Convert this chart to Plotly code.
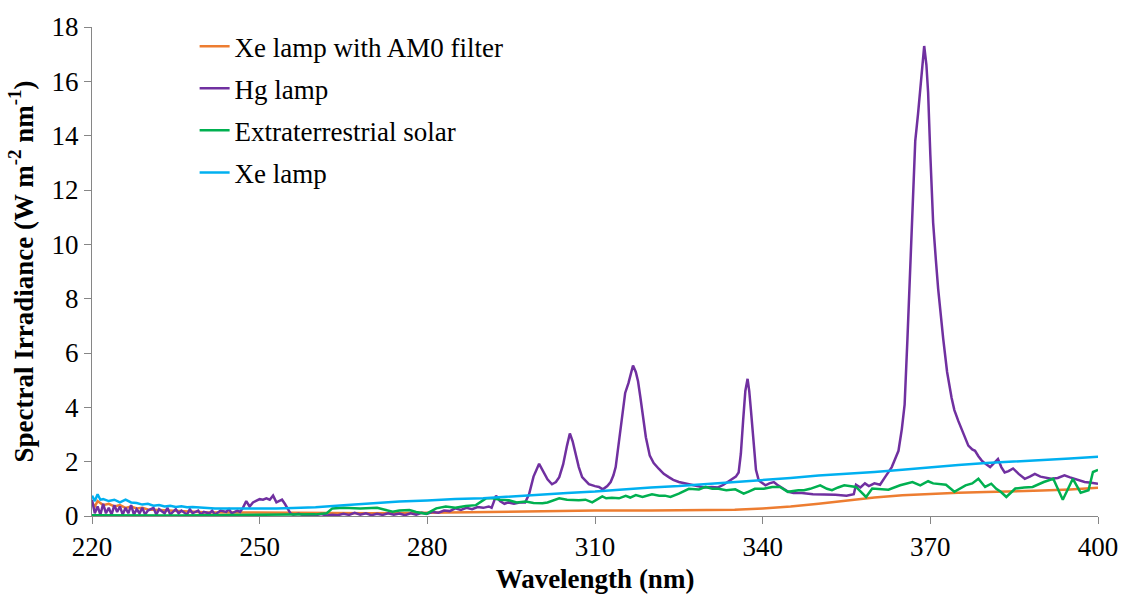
import plotly.graph_objects as go

# ---- Data ----
hg_wl = [220,220.5,221,221.5,222,222.5,223,223.5,224,224.5,225,225.5,226,226.5,227,227.5,228,228.5,229,229.5,
         230,231,231.5,232,233,233.5,234,235,235.5,236,237,237.5,238,239,239.5,240,241,241.5,242,243,244,244.5,
         245,246,246.5,247,247.6,248.2,248.8,249.4,250,250.6,251.2,251.8,252.4,253,253.5,254,254.5,255,255.5,
         256,257,258,259,260,261,262,263,264,265,266,267,268,269,270,271,272,273,274,275,276,277,278,279,280,
         281,282,283,284,285,286,287,288,289,290,291,291.5,292.3,293,293.8,294.5,295.5,296.5,297.5,298.2,299,
         300,300.7,301.5,302.3,303,303.6,304.3,305,305.5,306,306.5,307.1,307.7,308.9,310,310.7,311.4,312.2,312.8,
         313.3,313.7,314.3,314.9,315.4,316,316.8,317.3,317.7,318.1,318.5,319.1,319.8,320.5,321.4,322.3,323.2,324,
         325,326.5,328,329.5,330.9,332,333,334.5,335.2,335.7,336.1,336.5,336.9,337.3,337.6,337.9,338.4,338.8,
         339.3,340,340.5,341.2,342,342.6,343.2,344.6,345.5,347,349,351,353,355,356.3,356.7,357.5,358.3,359,360,
         361,361.9,362.5,363.1,363.7,364.3,364.9,365.4,365.9,366.3,366.7,367.3,367.8,368.3,368.9,369.3,369.6,
         370,370.5,371,371.4,372.3,373,373.8,374.3,375,375.8,376.8,377.5,378,378.6,379.2,380,380.7,381.4,382.1,
         382.7,383.3,384,384.8,385.8,386.9,387.8,388.7,389.7,390.6,391.6,392.8,394,395,396,397.6,398.8,400]
hg_val = [0.6,0.1,0.35,0.05,0.45,0.1,0.3,0.05,0.4,0.15,0.35,0.05,0.3,0.1,0.4,0.05,0.25,0.1,0.3,0.05,
          0.2,0.3,0.05,0.25,0.1,0.3,0.05,0.25,0.1,0.2,0.05,0.25,0.1,0.2,0.05,0.15,0.1,0.2,0.05,0.2,0.15,0.25,
          0.1,0.2,0.15,0.3,0.55,0.35,0.5,0.55,0.62,0.6,0.65,0.6,0.75,0.5,0.55,0.6,0.45,0.25,0.1,
          0.05,0.08,0.02,0.05,0.03,0.07,0.02,0.05,0.03,0.08,0.04,0.12,0.05,0.1,0.03,0.08,0.04,0.1,0.05,0.09,0.03,0.1,0.05,0.12,0.08,
          0.15,0.12,0.2,0.18,0.28,0.22,0.3,0.25,0.33,0.3,0.35,0.3,0.75,0.55,0.45,0.5,0.45,0.5,0.5,0.8,1.45,
          1.92,1.65,1.35,1.17,1.25,1.43,1.9,2.6,3.04,2.75,2.28,1.8,1.43,1.17,1.1,1.07,0.98,1.1,1.25,
          1.5,1.8,2.77,3.8,4.53,4.9,5.54,5.3,4.96,4.4,3.74,2.9,2.22,1.95,1.74,1.55,1.43,1.33,
          1.25,1.18,1.13,1.05,1.07,1.05,1.15,1.37,1.45,1.6,2.3,3.5,4.6,5.05,4.6,3.9,2.53,1.7,
          1.31,1.2,1.13,1.2,1.25,1.15,1.07,0.89,0.85,0.85,0.8,0.8,0.78,0.75,0.8,1.15,1.05,1.2,1.1,1.2,
          1.15,1.43,1.6,1.8,2.1,2.4,3.2,4.1,6.5,8.6,10.8,13.8,14.8,16.0,17.3,16.6,15.6,
          13.3,10.8,9.4,8.36,6.53,5.3,4.35,3.9,3.5,3.1,2.59,2.45,2.4,2.2,2.04,1.9,1.8,1.95,2.1,
          1.8,1.6,1.65,1.75,1.55,1.37,1.45,1.55,1.45,1.4,1.37,1.4,1.5,1.42,1.35,1.25,1.22,1.19]

sol_wl = [220,225,230,235,240,245,250,255,258,260,262,263,265,268,271,273.8,275,276.8,278,279.8,281.6,283.3,
          285,286.9,288.7,289.5,290.5,291.7,293,294.6,296,297.6,299,300.6,301.5,303.6,305,307.1,308.3,309.5,
          311.3,312,313,314.3,315.5,316.3,317.3,318.5,320.2,321.5,322.5,323.5,325,326.8,328.6,329.8,331,332.1,
          333.5,335.1,336.6,337.5,338.6,340.2,341.7,343.1,344.5,346.4,347.4,348.5,350.3,351.5,352.4,353.5,354.6,
          356.7,358.5,359.6,361,362.5,364.6,366.8,368.2,369.6,370.5,371.2,372.8,374.3,375.3,376.3,377.5,378.6,
          379.8,380.9,381.8,382.6,383.6,385.2,386.8,388.3,390.3,392,393.7,395.5,396.9,398.3,399.1,400]
sol_val = [0.03,0.02,0.03,0.02,0.03,0.04,0.05,0.05,0.08,0.06,0.1,0.28,0.3,0.28,0.3,0.16,0.2,0.22,0.15,0.08,0.28,0.35,
           0.3,0.37,0.4,0.5,0.65,0.65,0.6,0.58,0.5,0.53,0.48,0.47,0.5,0.65,0.6,0.58,0.6,0.5,
           0.72,0.65,0.67,0.65,0.74,0.68,0.77,0.7,0.8,0.75,0.75,0.7,0.82,1.0,0.98,1.07,1.0,1.0,
           0.95,0.98,0.82,0.9,1.0,1.0,1.07,1.07,0.89,0.95,0.95,1.0,1.13,1.0,0.95,1.05,1.13,
           1.07,0.7,1.01,0.98,0.97,1.13,1.25,1.13,1.28,1.2,1.19,1.15,0.89,1.0,1.13,1.2,1.37,
           1.07,1.19,1.0,0.89,0.7,1.01,1.05,1.07,1.25,1.37,0.6,1.37,0.86,0.95,1.62,1.7]

xe_wl = [220,220.5,221,221.5,222,223,224,225,226,227,228,229,230,231,232,233,234,235,236,237,238,240,242,245,
         248,250,253,256,260,265,270,275,280,285,290,295,300,305,310,315,320,325,330,335,340,345,350,355,360,
         365,370,375,380,385,390,395,400]
xe_val = [0.75,0.55,0.8,0.6,0.62,0.55,0.6,0.5,0.6,0.5,0.48,0.42,0.45,0.38,0.4,0.35,0.38,0.33,0.36,0.32,0.33,0.3,0.28,0.28,
          0.27,0.27,0.28,0.29,0.32,0.4,0.47,0.53,0.57,0.63,0.65,0.72,0.78,0.85,0.9,0.98,1.05,1.1,1.17,1.25,1.32,1.4,1.49,1.55,1.62,
          1.7,1.8,1.88,1.95,2.0,2.05,2.12,2.18]

am0_wl = [220,220.5,221,222,223,224,225,226,227,228,229,230,232,234,236,238,240,245,250,255,260,270,280,290,300,
          310,320,330,335,340,345,350,355,360,365,370,375,380,385,390,395,400]
am0_val = [0.5,0.35,0.55,0.4,0.45,0.35,0.4,0.3,0.35,0.28,0.3,0.24,0.22,0.2,0.18,0.16,0.14,0.13,0.12,0.11,0.1,0.1,0.12,0.15,0.18,
           0.2,0.2,0.21,0.23,0.28,0.35,0.45,0.57,0.68,0.76,0.82,0.86,0.88,0.9,0.94,0.98,1.04]

x_ticks = [220, 250, 280, 310, 340, 370, 400]
y_ticks = [0, 2, 4, 6, 8, 10, 12, 14, 16, 18]

FONT = "'Liberation Serif', 'Times New Roman', 'DejaVu Serif', serif"
FS = 27

fig = go.Figure()
series = [
    ("Xe lamp with AM0 filter", am0_wl, am0_val, "#ED7D31"),
    ("Hg lamp", hg_wl, hg_val, "#7030A0"),
    ("Extraterrestrial solar", sol_wl, sol_val, "#00B050"),
    ("Xe lamp", xe_wl, xe_val, "#00B0F0"),
]
for i, (name, xs, ys, col) in enumerate(series):
    fig.add_trace(go.Scatter(x=xs, y=ys, mode="lines", name=name, legendgroup=str(i),
                             line=dict(color=col, width=2.5)))

fig.update_layout(
    width=1130, height=601,
    margin=dict(l=92, r=30, t=22, b=85),
    paper_bgcolor="white", plot_bgcolor="white",
    font=dict(family=FONT, size=FS, color="black"),
    legend=dict(x=0.102, y=1.01, xanchor="left", yanchor="top",
                font=dict(family=FONT, size=FS, color="black"),
                tracegroupgap=4, itemwidth=30, bgcolor="rgba(0,0,0,0)"),
    xaxis=dict(range=[220, 400], tickvals=x_ticks, ticktext=[str(v) for v in x_ticks],
               showgrid=False, zeroline=False, showline=True, linecolor="#868686", linewidth=1,
               ticks="outside", ticklen=7, tickcolor="#868686",
               tickfont=dict(family=FONT, size=FS, color="black"),
               title=dict(text="<b>Wavelength (nm)</b>", font=dict(family=FONT, size=FS, color="black"),
                          standoff=7)),
    yaxis=dict(range=[0, 18], tickvals=y_ticks, ticktext=[str(v) for v in y_ticks],
               showgrid=False, zeroline=False, showline=True, linecolor="#868686", linewidth=1,
               ticks="outside", ticklen=7, tickcolor="#868686",
               tickfont=dict(family=FONT, size=FS, color="black"),
               title=dict(text="<b>Spectral Irradiance (W m<sup>-2</sup> nm<sup>-1</sup>)</b>",
                          font=dict(family=FONT, size=FS, color="black"), standoff=10)),
)

fig.write_html("out.html")
